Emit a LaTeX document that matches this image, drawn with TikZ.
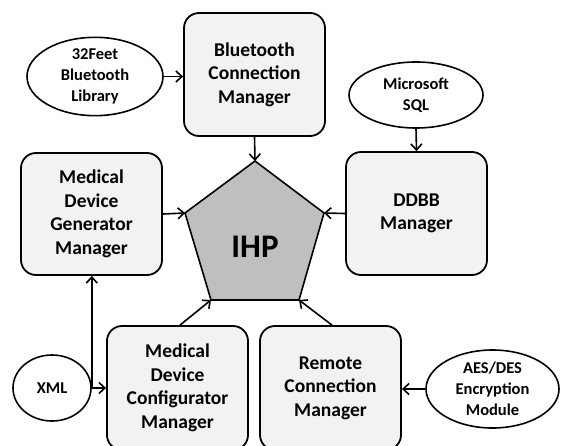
\documentclass[tikz,border=0pt]{standalone}
\usepackage{fontspec}
\setmainfont{Carlito}
\usetikzlibrary{shapes.geometric,arrows.meta}
\definecolor{boxfill}{HTML}{F2F2F2}
\definecolor{corefill}{HTML}{BFBFBF}
\tikzset{
  manager/.style={draw=black, line width=1.8pt, fill=boxfill, rounded corners=15pt,
    minimum width=141pt, minimum height=123pt, inner sep=0pt, align=center,
    font=\fontsize{19.5}{23.5}\selectfont\bfseries},
  source/.style={draw=black, line width=1.6pt, fill=white, ellipse, inner sep=0pt,
    align=center, font=\fontsize{16.5}{21}\selectfont\bfseries},
  link/.style={line width=1.6pt, -{Straight Barb[length=6pt,width=11pt,line width=1.6pt]}},
}
\begin{document}
\begin{tikzpicture}[x=1pt,y=-1pt]
\useasboundingbox (0,0) rectangle (561,446);
\clip (0,0) rectangle (561,446);

% central platform pentagon
\coordinate (pT) at (255,161);
\coordinate (pL) at (185,213);
\coordinate (pR) at (324,213);
\coordinate (pBL) at (211,300);
\coordinate (pBR) at (299,300);
\draw[line width=1.6pt, fill=corefill, line join=miter] (pT) -- (pR) -- (pBR) -- (pBL) -- (pL) -- cycle;
\node[font=\fontsize{33}{36}\selectfont\bfseries] (ihp) at (255,247) {IHP};

% managers
\node[manager] (bt)  at (254.5,74.5) {Bluetooth\\Connection\\Manager};
\node[manager] (db)  at (416.5,213.5) {DDBB\\Manager};
\node[manager, minimum height=122pt] (gen) at (91.5,214) {Medical\\Device\\Generator\\Manager};
\node[manager, minimum height=124pt] (cfg) at (177.5,388) {Medical\\Device\\Configurator\\Manager};
\node[manager, minimum height=124pt] (rem) at (330.5,388) {Remote\\Connection\\Manager};

% external modules
\node[source, minimum width=136pt, minimum height=61pt] (feet) at (95,76.5) {32Feet\\Bluetooth\\Library};
\node[source, minimum width=134pt, minimum height=66pt] (sql) at (416,95) {Microsoft\\SQL};
\node[source, minimum width=78pt, minimum height=66pt] (xml) at (52,388) {XML};
\node[source, minimum width=133pt, minimum height=78pt] (aes) at (492.5,389) {AES/DES\\Encryption\\Module};

% connectors
\draw[link] (feet.east) -- (bt.west |- feet.east);
\draw[link] (bt.south) -- (pT);
\draw[link] (sql.south) -- (db.north);
\draw[link] (db.west) -- (pR);
\draw[link] (gen.east) -- (pL);
\draw[link] (xml.east) -- (xml.east |- gen.south);
\draw[link] (xml.east) -- (cfg.west |- xml.east);
\draw[link] ([xshift=2.5pt]cfg.north) -- (pBL);
\draw[link] ([xshift=1.5pt]rem.north) -- (pBR);
\draw[link] (aes.west) -- (rem.east |- aes.west);
\end{tikzpicture}
\end{document}
